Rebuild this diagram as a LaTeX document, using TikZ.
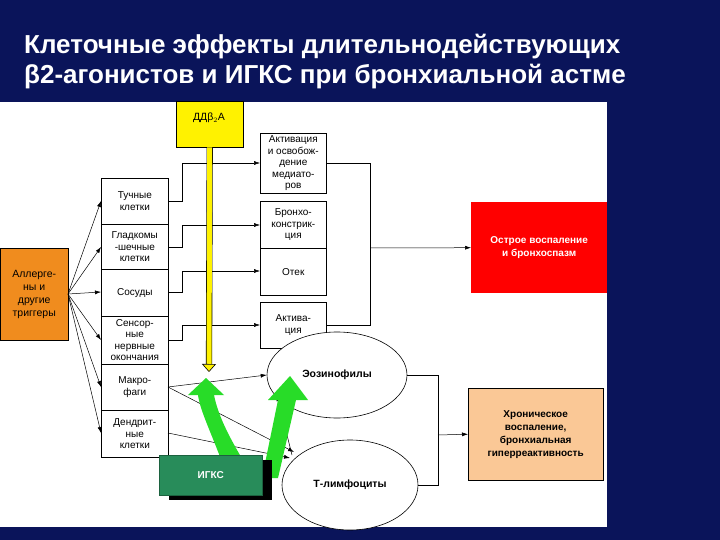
\documentclass[tikz,border=0pt]{standalone}
\usepackage{fontspec}
\setmainfont{Liberation Sans}
\usetikzlibrary{arrows.meta,shapes.geometric}
\definecolor{navy}{RGB}{10,20,90}
\definecolor{orng}{RGB}{240,140,30}
\definecolor{peach}{RGB}{250,200,150}
\definecolor{igks}{RGB}{40,140,90}
\definecolor{grn}{RGB}{40,220,40}
\begin{document}
\begin{tikzpicture}[x=1pt,y=-1pt,
 bx/.style={draw,line width=0.6pt,minimum width=67pt,align=center,font=\fontsize{10}{11.5}\selectfont,inner sep=1pt},
 ar/.style={-{Latex[length=6pt,width=4pt]},line width=0.5pt},
 ln/.style={line width=0.5pt},
 ell/.style={ellipse,draw,fill=white,line width=0.6pt,font=\bfseries\fontsize{10.5}{12}\selectfont}]
\useasboundingbox (0,0) rectangle (720,540);
\fill[navy] (0,0) rectangle (720,540);
\fill[white] (0,102) rectangle (607,527);
\node[anchor=west,text=white,font=\bfseries\fontsize{26}{30}\selectfont,align=left,inner sep=0pt] (title) at (24,62) {Клеточные эффекты длительнодействующих\\β2-агонистов и ИГКС при бронхиальной астме};
% yellow
\node[draw,fill=yellow,minimum width=67pt,minimum height=46pt,anchor=north west] (dd) at (176,101) {};
\node[font=\fontsize{10.5}{12}\selectfont] (ddt) at (209,118) {ДДβ$_2$А};
% left column
\foreach \n/\t/\a/\b in {tu/Тучные\\клетки/178/224, gl/Гладкомы\\-шечные\\клетки/224/269, so/Сосуды/269/316, se/Сенсор-\\ные\\нервные\\окончания/316/364, ma/Макро-\\фаги/364/410, de/Дендрит-\\ные\\клетки/410/457}
  \node[bx,minimum height={(\b-\a)*1pt},anchor=north west] (\n) at (101,\a) {\t};
% middle column
\foreach \n/\t/\a/\b in {m1/Активация\\и освобож-\\дение\\медиато-\\ров/133/193, m2/Бронхо-\\констрик-\\ция/201/248, m3/Отек/248/295, m4/Актива-\\ция/302/348}
  \node[bx,minimum width=66pt,minimum height={(\b-\a)*1pt},anchor=north west] (\n) at (260,\a) {\t};
\node[draw,fill=orng,minimum width=68pt,minimum height=92pt,anchor=north west,align=center,font=\fontsize{10.5}{13}\selectfont] (al) at (0,248) {Аллерге-\\ны и\\другие\\триггеры};
\node[fill=red,minimum width=136pt,minimum height=91pt,anchor=north west,align=center,text=white,font=\bfseries\fontsize{10}{13}\selectfont] (ac) at (471,202) {Острое воспаление\\и бронхоспазм};
\node[draw,fill=peach,minimum width=135pt,minimum height=92pt,anchor=north west,align=center,font=\bfseries\fontsize{10}{13}\selectfont] (ch) at (468,388) {Хроническое\\воспаление,\\бронхиальная\\гиперреактивность};
% arrows from allergens
\foreach \n/\y in {tu/201,gl/247,so/292,se/340,ma/387,de/433}
  \draw[ar] (68,294) -- (101,\y);
% elbows left->middle
\foreach \n/\ya/\yb in {tu/201/163,gl/247/225,so/292/271,se/340/325}
  \draw[ar] (168,\ya) -- (182,\ya) -- (182,\yb) -- (260,\yb);
% bracket to acute
\draw[ln] (326,163) -- (370,163) -- (370,325) -- (326,325);
\draw[ar] (370,248) -- (ac.west);
% ellipses
\node[ell,minimum width=140pt,minimum height=86pt] (eo) at (337,375) {Эозинофилы};
\node[ell,minimum width=136pt,minimum height=90pt] (tl) at (350,485) {Т-лимфоциты};
\draw[ln] (eo.east) -- (438,375) -- (438,485) -- (tl.east);
\draw[ar] (438,435) -- (ch.west);
% thin arrows
\draw[ar] (168,387) -- (eo.west);
\draw[ar] (168,387) -- (294,452);
\draw[ar] (168,433) -- (290,458);
\draw[ar] (292,455) -- (277,395);
% yellow double arrow
\draw[double=yellow,double distance=5pt,line width=0.6pt,-{Triangle[length=8pt,width=14pt,fill=yellow]}] (dd.south) -- (209,372);
% green arrows
\fill[grn] (222,462) .. controls (210,430) and (200,410) .. (198,395) -- (188,395) -- (206,378) -- (224,395) -- (214,395) .. controls (218,415) and (228,435) .. (244,462) -- cycle;
\fill[grn] (262,478) -- (278,400) -- (268,400) -- (290,376) -- (308,400) -- (296,400) -- (278,478) -- cycle;
% igks
\fill[black] (169,460) rectangle (272,500);
\node[fill=igks,draw=igks!70!black,minimum width=103pt,minimum height=40pt,anchor=north west,text=white,font=\bfseries\fontsize{10}{12}\selectfont] (ig) at (159,455) {ИГКС};
\end{tikzpicture}
\end{document}
